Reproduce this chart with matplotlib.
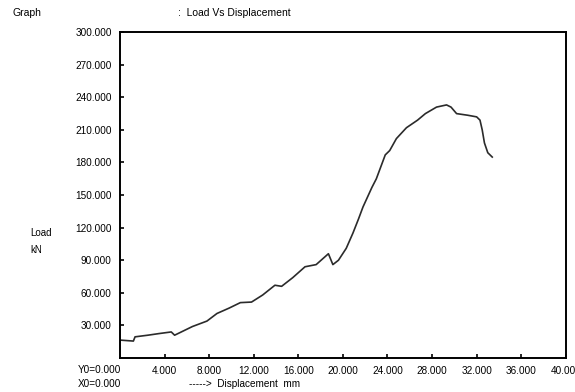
import matplotlib.pyplot as plt
import numpy as np

plt.rcParams['font.family'] = ['Liberation Sans', 'DejaVu Sans']

# displacement (mm) and load (kN)
disp = [0.0, 1.2, 1.35, 2.5, 3.5, 4.6, 4.9, 5.6, 6.5, 7.8, 8.7, 9.8, 10.8, 11.8,
        12.8, 13.9, 14.5, 15.5, 16.6, 17.6, 18.7, 19.1, 19.6, 20.3, 20.9, 21.4,
        21.8, 22.6, 23.0, 23.8, 24.2, 24.8, 25.7, 26.7, 27.4, 28.4, 29.3, 29.7,
        30.2, 31.2, 32.0, 32.3, 32.5, 32.7, 33.0, 33.4]
load = [16.5, 15.6, 19.5, 21.0, 22.5, 24.0, 21.0, 24.5, 29.0, 34.0, 41.0, 46.0,
        51.0, 51.5, 58.0, 67.0, 66.0, 74.0, 84.0, 86.0, 96.0, 86.0, 90.0, 101.0,
        115.0, 128.0, 139.0, 157.0, 165.0, 187.0, 191.0, 202.0, 212.0, 219.0,
        225.0, 231.0, 233.0, 231.0, 225.0, 223.5, 222.0, 219.0, 210.0, 198.0,
        189.0, 185.0]

x_ticks = np.arange(4, 41, 4)
y_ticks = np.arange(30, 301, 30)

fig = plt.figure(figsize=(5.75, 3.92), dpi=100)
ax = fig.add_axes([0.2087, 0.0867, 0.7753, 0.8313])
ax.plot(disp, load, color='#2b2b2b', linewidth=1.2)

ax.set_xlim(0, 40)
ax.set_ylim(0, 300)
ax.set_xticks(x_ticks)
ax.set_yticks(y_ticks)
ax.set_xticklabels(['%.3f' % v for v in x_ticks])
ax.set_yticklabels(['%.3f' % v for v in y_ticks])
ax.tick_params(direction='in', length=3, width=1.2, labelsize=7.2, colors='black', pad=6)
for s in ax.spines.values():
    s.set_linewidth(1.4)

fig.text(12/575, 1 - 13/392, 'Graph', fontsize=7.5, va='center', ha='left')
fig.text(178/575, 1 - 13/392, ':  Load Vs Displacement', fontsize=7.5, va='center', ha='left')
fig.text(30/575, 1 - 233/392, 'Load', fontsize=7, va='center', ha='left')
fig.text(30/575, 1 - 250/392, 'kN', fontsize=7, va='center', ha='left')
fig.text(78/575, 1 - 370/392, 'Y0=0.000', fontsize=7.2, va='center', ha='left')
fig.text(78/575, 1 - 384/392, 'X0=0.000', fontsize=7.2, va='center', ha='left')
fig.text(189/575, 1 - 384/392, '----->  Displacement  mm', fontsize=7.2, va='center', ha='left')

fig.savefig('out.png', dpi=100)
